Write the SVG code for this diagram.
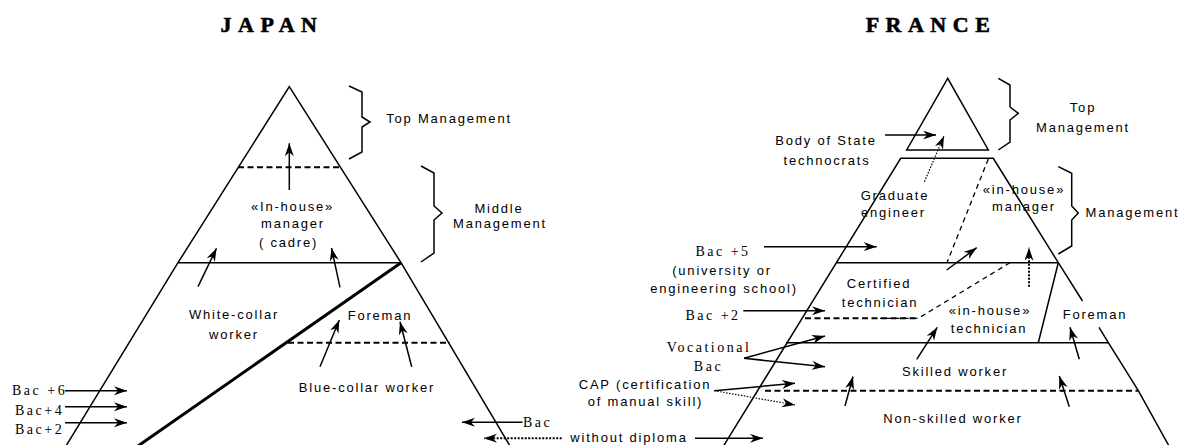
<svg xmlns="http://www.w3.org/2000/svg" width="1185" height="445" viewBox="0 0 1185 445">
<style>
.s{font-family:"Liberation Sans",Arial,sans-serif;font-size:13px;letter-spacing:1.8px;fill:#000;text-anchor:middle}
.r{font-family:"Liberation Serif","Times New Roman",serif;font-size:14px;letter-spacing:2.5px;fill:#000}
.t{font-family:"Liberation Serif","Times New Roman",serif;font-weight:bold;font-size:22px;letter-spacing:6.5px;fill:#000;stroke:#000;stroke-width:0.6;text-anchor:middle}
.ln{fill:none;stroke:#000;stroke-width:1.5}
.dash{fill:none;stroke:#000;stroke-width:2;stroke-dasharray:6 3.5}
.thin-dash{fill:none;stroke:#000;stroke-width:1.3;stroke-dasharray:5 4}
.ar{fill:none;stroke:#000;stroke-width:1.5;marker-end:url(#ah)}
.dot{fill:none;stroke:#000;stroke-width:1.2;stroke-dasharray:1.5 1.5;marker-end:url(#ah)}
.dotb{fill:none;stroke:#000;stroke-width:2;stroke-dasharray:2 1.5;marker-end:url(#ah)}
</style>
<defs>
<marker id="ah" markerUnits="userSpaceOnUse" markerWidth="14" markerHeight="10" refX="13" refY="4.5" orient="auto">
<path d="M0,0 L13,4.5 L0,9 L4,4.5 z" fill="#000"/>
</marker>
</defs>
<rect width="1185" height="445" fill="#fff"/>

<g id="titles">
<text class="t" x="272" y="32">JAPAN</text>
<text class="t" x="931" y="32">FRANCE</text>
</g>

<g id="japan-pyramid">
<polyline class="ln" points="66,446 178,262.7 289.3,86.7 401,262.7 510,446"/>
<line class="dash" x1="238" y1="167.3" x2="340" y2="167.3"/>
<line class="ln" x1="178" y1="262.7" x2="401" y2="262.7"/>
<line fill="none" stroke="#000" stroke-width="3" x1="401" y1="262.7" x2="138" y2="446"/>
<line class="dash" x1="288" y1="342.7" x2="450" y2="342.7"/>
<polyline class="ln" points="349,86 362,92 362,117 370,122 362,127 362,152 349,159"/>
<polyline class="ln" points="421,166 434,173 434,206 442,213 434,220 434,253 421,262"/>
</g>

<g id="japan-labels">
<text class="s" x="449" y="123">Top Management</text>
<text class="s" x="499" y="213">Middle</text>
<text class="s" x="500" y="228">Management</text>
<text class="s" x="292.5" y="211">«In-house»</text>
<text class="s" x="293" y="228">manager</text>
<text class="s" x="288.5" y="247">( cadre)</text>
<text class="s" x="234" y="318.5">White-collar</text>
<text class="s" x="234" y="339">worker</text>
<text class="s" x="380" y="320">Foreman</text>
<text class="s" x="367" y="391.5">Blue-collar worker</text>
<text class="r" x="12" y="395">Bac +6</text>
<text class="r" x="15" y="414.5">Bac+4</text>
<text class="r" x="15" y="434">Bac+2</text>
<text class="r" x="523" y="426.5">Bac</text>
<text class="s" x="629" y="442">without diploma</text>
</g>

<g id="france-pyramid">
<polygon class="ln" points="947.7,78.3 906.7,150 988.3,150"/>
<polyline class="ln" points="723.5,446 900.7,158.3 993.3,158.3 1058.3,262.7 1082.5,301"/>
<polyline class="ln" points="1099,327.3 1108.3,342.7 1138.3,390.7 1169,446"/>
<line class="ln" x1="837" y1="262.7" x2="1058.3" y2="262.7"/>
<line class="ln" x1="786" y1="342.7" x2="1108.3" y2="342.7"/>
<line class="ln" x1="1058.3" y1="262.7" x2="1038.3" y2="342.7"/>
<line class="thin-dash" x1="988.3" y1="159" x2="947" y2="262.7"/>
<polyline class="thin-dash" points="1010,262.7 918.3,318.3 880,318.3"/>
<line class="dash" x1="805" y1="318.3" x2="918.3" y2="318.3"/>
<line class="dash" x1="765" y1="390.7" x2="1138.3" y2="390.7"/>
<polyline class="ln" points="998.3,78.3 1010,85 1010,107 1018.3,113.3 1010,120 1010,142 998.3,150"/>
<polyline class="ln" points="1058.3,166.7 1071.7,173.3 1071.7,206 1078.3,213 1071.7,220 1071.7,246 1058.3,254"/>
</g>

<g id="france-labels">
<text class="s" x="1083" y="112">Top</text>
<text class="s" x="1083" y="131.5">Management</text>
<text class="s" x="826" y="145">Body of State</text>
<text class="s" x="827" y="165">technocrats</text>
<text class="s" x="895" y="199.5">Graduate</text>
<text class="s" x="893.5" y="217">engineer</text>
<text class="s" x="1024" y="193.5">«in-house»</text>
<text class="s" x="1024" y="211">manager</text>
<text class="s" x="1132.5" y="216.5">Management</text>
<text class="r" x="723" y="256" text-anchor="middle">Bac +5</text>
<text class="s" x="722" y="275">(university or</text>
<text class="s" x="724" y="293">engineering school)</text>
<text class="s" x="879" y="288">Certified</text>
<text class="s" x="880" y="307">technician</text>
<text class="r" x="713" y="319.5" text-anchor="middle">Bac +2</text>
<text class="s" x="990" y="315">«in-house»</text>
<text class="s" x="989" y="333.3">technician</text>
<text class="s" x="1095" y="319.3">Foreman</text>
<text class="r" x="709" y="351.5" text-anchor="middle">Vocational</text>
<text class="r" x="708.5" y="370.5" text-anchor="middle">Bac</text>
<text class="s" x="645" y="388.5">CAP (certification</text>
<text class="s" x="645.5" y="406">of manual skill)</text>
<text class="s" x="955" y="376">Skilled worker</text>
<text class="s" x="953" y="423.3">Non-skilled worker</text>
</g>

<g id="connectors">
<line class="ar" x1="289.3" y1="190" x2="289.3" y2="143.3"/>
<line class="ar" x1="198" y1="286.7" x2="216.5" y2="248.3"/>
<line class="ar" x1="340" y1="287.3" x2="331.5" y2="248"/>
<line class="ar" x1="320" y1="366.7" x2="339.3" y2="320"/>
<line class="ar" x1="411.7" y1="366.7" x2="400" y2="321.7"/>
<line class="ar" x1="65" y1="390.7" x2="127" y2="390.7"/>
<line class="ar" x1="65" y1="406.7" x2="127" y2="406.7"/>
<line class="ar" x1="65" y1="422.7" x2="127" y2="422.7"/>
<line class="ar" x1="522.5" y1="422.3" x2="462" y2="422.3"/>
<line class="dotb" x1="561.7" y1="438.3" x2="484" y2="438.3"/>
<line class="ar" x1="885" y1="135" x2="936" y2="135"/>
<line class="dot" x1="924.4" y1="181.7" x2="944" y2="136"/>
<line class="ar" x1="764" y1="246.7" x2="876.7" y2="246.7"/>
<line class="ar" x1="946.7" y1="270" x2="976.7" y2="247.7"/>
<line class="dotb" x1="1029" y1="286.7" x2="1029" y2="247.7"/>
<line class="ar" x1="743.3" y1="310.7" x2="825" y2="310.7"/>
<line class="ar" x1="916.7" y1="359.3" x2="937.3" y2="327.3"/>
<line class="ar" x1="1079.3" y1="359.3" x2="1070" y2="327.3"/>
<line class="ar" x1="744" y1="358.3" x2="825" y2="336"/>
<line class="ar" x1="744" y1="358.3" x2="825" y2="366.7"/>
<line class="ar" x1="714.3" y1="390.7" x2="795" y2="383.3"/>
<line class="dot" x1="714.3" y1="390.7" x2="795" y2="405"/>
<line class="ar" x1="845" y1="406" x2="853" y2="376.5"/>
<line class="ar" x1="1069.3" y1="406.7" x2="1059.3" y2="376"/>
<line class="ar" x1="695" y1="438.3" x2="763" y2="438.3"/>
</g>
</svg>
